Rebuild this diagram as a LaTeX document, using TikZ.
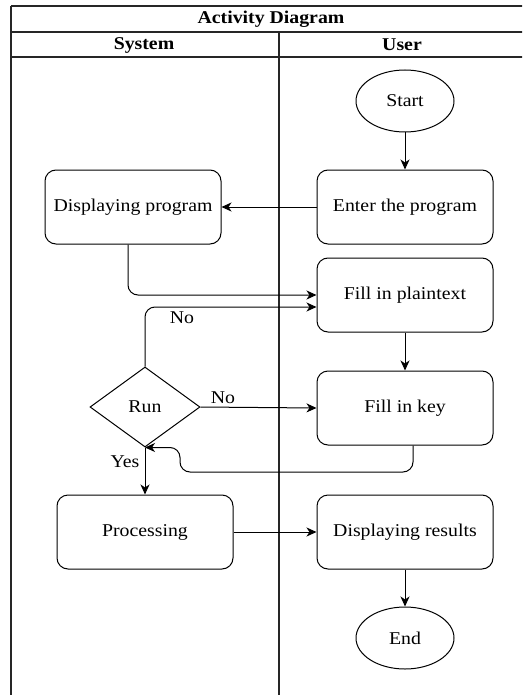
\documentclass[tikz,border=0pt]{standalone}
\usepackage{fontspec}
\setmainfont[FakeStretch=1.1]{Liberation Serif}
\usetikzlibrary{shapes.geometric,arrows.meta}
\tikzset{
  lane/.style={line width=1.3pt, draw=black!85},
  txt/.style={font=\fontsize{18}{21}\selectfont},
  act/.style={draw, line width=1pt, rounded corners=11pt, minimum width=176pt,
    minimum height=74pt, txt},
  term/.style={draw, line width=1pt, ellipse, minimum width=98pt, minimum height=62pt,
    inner sep=0pt, txt},
  decide/.style={draw, line width=1pt, diamond, minimum width=110pt, minimum height=80pt,
    inner sep=0pt, txt},
  flow/.style={line width=1pt, -{Stealth[length=10pt,width=9pt,inset=3pt]}},
  guard/.style={txt, inner sep=0pt},
  head/.style={font=\bfseries\fontsize{18}{21}\selectfont, inner sep=0pt}
}
\begin{document}
\begin{tikzpicture}[x=1pt,y=-1pt]
\useasboundingbox (0,0) rectangle (522,695);
\fill[white] (0,0) rectangle (522,695);
\clip (0,0) rectangle (522,695);

% swimlane frame
\draw[lane] (11,6) -- (526,6);
\draw[lane] (11,32) -- (526,32);
\draw[lane] (11,57) -- (526,57);
\draw[lane] (11,6) -- (11,700);
\draw[lane] (279,32) -- (279,700);
\node[head] (title) at (271,19) {Activity Diagram};
\node[head] (sys) at (144,45) {System};
\node[head] (usr) at (402,45) {User};

% activities
\node[term] (start) at (405,101) {Start};
\node[act] (enter) at (405,207) {Enter the program};
\node[act] (disp) at (133,207) {Displaying program};
\node[act] (plain) at (405,295) {Fill in plaintext};
\node[act] (key) at (405,408) {Fill in key};
\node[decide] (run) at (145,407) {Run};
\node[act] (proc) at (145,532) {Processing};
\node[act] (res) at (405,532) {Displaying results};
\node[term] (end) at (405,638) {End};

\coordinate (back) at (180,472);

% control flow
\draw[flow] (start) -- (enter);
\draw[flow] (enter.west) -- (disp.east);
\draw[flow, rounded corners=10pt] ([xshift=-5pt]disp.south) |- (plain.west);
\draw[flow, rounded corners=10pt] (run.north) |- ([yshift=-12pt]plain.west);
\node[guard] (no1) at (182,318) {No};
\draw[flow] (plain) -- (key);
\draw[flow] (run.east) -- (key.west);
\node[guard] (no2) at (223,398) {No};
\draw[flow, rounded corners=10pt] ([xshift=8pt]key.south) |- (back) |- (run.south);
\draw[flow] (run.south) -- (proc.north);
\node[guard] (yes) at (125,462) {Yes};
\draw[flow] (proc.east) -- (res.west);
\draw[flow] (res) -- (end);
\end{tikzpicture}
\end{document}
